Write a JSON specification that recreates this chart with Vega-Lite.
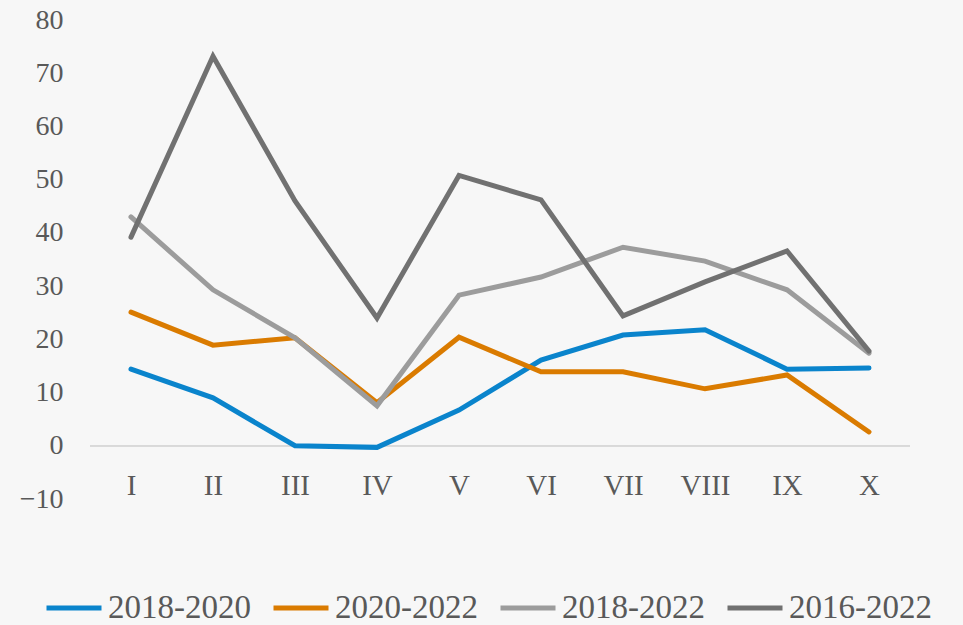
{
  "$schema": "https://vega.github.io/schema/vega-lite/v6.json",
  "autosize": {"type": "none"},
  "width": 820,
  "height": 479,
  "padding": {"left": 90, "top": 20, "right": 53, "bottom": 126},
  "background": "#f7f7f7",
  "config": {
    "view": {"stroke": null},
    "font": "Liberation Serif"
  },
  "data": {
    "values": [
      {"m": "I", "s": "2018-2020", "v": 14.4},
      {"m": "II", "s": "2018-2020", "v": 9.0},
      {"m": "III", "s": "2018-2020", "v": 0.0},
      {"m": "IV", "s": "2018-2020", "v": -0.3},
      {"m": "V", "s": "2018-2020", "v": 6.7},
      {"m": "VI", "s": "2018-2020", "v": 16.1},
      {"m": "VII", "s": "2018-2020", "v": 20.8},
      {"m": "VIII", "s": "2018-2020", "v": 21.8},
      {"m": "IX", "s": "2018-2020", "v": 14.4},
      {"m": "X", "s": "2018-2020", "v": 14.6},
      {"m": "I", "s": "2020-2022", "v": 25.1},
      {"m": "II", "s": "2020-2022", "v": 18.9},
      {"m": "III", "s": "2020-2022", "v": 20.3},
      {"m": "IV", "s": "2020-2022", "v": 8.1},
      {"m": "V", "s": "2020-2022", "v": 20.4},
      {"m": "VI", "s": "2020-2022", "v": 13.9},
      {"m": "VII", "s": "2020-2022", "v": 13.9},
      {"m": "VIII", "s": "2020-2022", "v": 10.7},
      {"m": "IX", "s": "2020-2022", "v": 13.3},
      {"m": "X", "s": "2020-2022", "v": 2.6},
      {"m": "I", "s": "2018-2022", "v": 43.0},
      {"m": "II", "s": "2018-2022", "v": 29.3},
      {"m": "III", "s": "2018-2022", "v": 20.3},
      {"m": "IV", "s": "2018-2022", "v": 7.5},
      {"m": "V", "s": "2018-2022", "v": 28.3},
      {"m": "VI", "s": "2018-2022", "v": 31.7},
      {"m": "VII", "s": "2018-2022", "v": 37.3},
      {"m": "VIII", "s": "2018-2022", "v": 34.7},
      {"m": "IX", "s": "2018-2022", "v": 29.3},
      {"m": "X", "s": "2018-2022", "v": 17.4},
      {"m": "I", "s": "2016-2022", "v": 39.2},
      {"m": "II", "s": "2016-2022", "v": 73.2},
      {"m": "III", "s": "2016-2022", "v": 46.0},
      {"m": "IV", "s": "2016-2022", "v": 24.0},
      {"m": "V", "s": "2016-2022", "v": 50.8},
      {"m": "VI", "s": "2016-2022", "v": 46.2},
      {"m": "VII", "s": "2016-2022", "v": 24.4},
      {"m": "VIII", "s": "2016-2022", "v": 30.8},
      {"m": "IX", "s": "2016-2022", "v": 36.6},
      {"m": "X", "s": "2016-2022", "v": 17.8}
    ]
  },
  "layer": [
    {
      "mark": {"type": "rule", "color": "#d9d9d9", "strokeWidth": 1.5},
      "encoding": {"y": {"datum": 0, "type": "quantitative", "scale": {"domain": [-10, 80]}}}
    },
    {
      "mark": {"type": "line", "strokeWidth": 5, "strokeCap": "round", "strokeJoin": "miter"},
      "encoding": {
        "x": {
          "field": "m",
          "type": "ordinal",
          "sort": ["I", "II", "III", "IV", "V", "VI", "VII", "VIII", "IX", "X"],
          "scale": {"type": "point", "padding": 0.5},
          "axis": {
            "title": null,
            "domain": false,
            "ticks": false,
            "grid": false,
            "offset": -53.2,
            "labelAngle": 0,
            "labelFontSize": 29,
            "labelColor": "#595959",
            "labelPadding": 26
          }
        },
        "y": {
          "field": "v",
          "type": "quantitative",
          "scale": {"domain": [-10, 80], "nice": false, "zero": false},
          "axis": {
            "title": null,
            "values": [-10, 0, 10, 20, 30, 40, 50, 60, 70, 80],
            "domain": false,
            "ticks": false,
            "grid": false,
            "labelFontSize": 28,
            "labelColor": "#595959",
            "labelPadding": 27
          }
        },
        "color": {
          "field": "s",
          "type": "nominal",
          "scale": {
            "domain": ["2018-2020", "2020-2022", "2018-2022", "2016-2022"],
            "range": ["#0a84cc", "#da7b00", "#9c9c9c", "#717171"]
          },
          "legend": {
            "title": null,
            "orient": "none",
            "direction": "horizontal",
            "legendX": -46,
            "legendY": 558,
            "symbolType": "stroke",
            "symbolSize": 3025,
            "symbolStrokeWidth": 5,
            "labelFontSize": 33,
            "labelColor": "#595959",
            "labelOffset": 4,
            "columnPadding": 12,
            "labelLimit": 300
          }
        }
      }
    }
  ]
}
